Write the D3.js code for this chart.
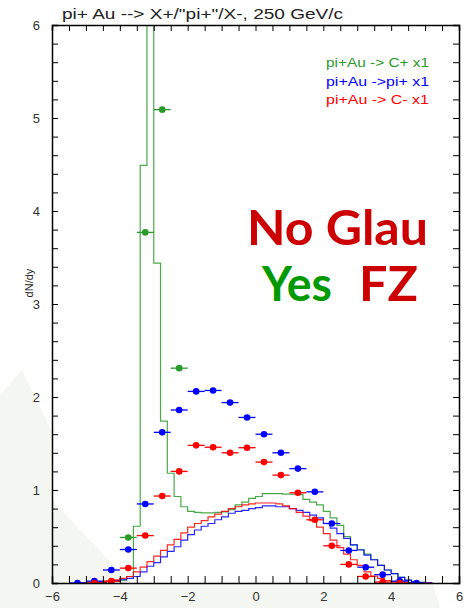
<!DOCTYPE html>
<html>
<head>
<meta charset="utf-8">
<script src="https://cdn.jsdelivr.net/npm/d3@7"></script>
<style>
  body { margin: 0; background: #fff; }
  svg { display: block; }
  .axis text { font-family: "Liberation Sans", Arial, sans-serif; font-size: 13px; fill: #333; }
  .axis path, .axis line { stroke: #000; }
</style>
</head>
<body>
<div id="vis"></div>
<script>
// ---- data ----
// histogram bins are 0.2 wide, first bin starts at -5.2
var binStart = -5.2, binWidth = 0.2;
var histCplus = [0, 0, 0.005, 0.01, 0.015, 0.02, 0.03, 0.07, 0.61, 4.49, 7.5, 3.44, 1.74, 1.18, 0.93, 0.82,
    0.77, 0.76, 0.755, 0.755, 0.76, 0.765, 0.79, 0.84, 0.87, 0.91, 0.93, 0.96, 0.96, 0.96, 0.955, 0.955,
    0.95, 0.90, 0.87, 0.84, 0.77, 0.70, 0.62, 0.50, 0.41, 0.36, 0.31, 0.25, 0.19, 0.14, 0.10, 0.06,
    0.03, 0.015, 0.005, 0];
var histPi = [0, 0, 0.005, 0.01, 0.015, 0.025, 0.035, 0.05, 0.07, 0.12, 0.18, 0.22, 0.28, 0.34, 0.39, 0.46,
    0.52, 0.57, 0.61, 0.64, 0.68, 0.71, 0.75, 0.77, 0.78, 0.80, 0.81, 0.83, 0.83, 0.82, 0.82, 0.80,
    0.78, 0.76, 0.73, 0.70, 0.64, 0.59, 0.53, 0.48, 0.41, 0.355, 0.30, 0.25, 0.19, 0.14, 0.10, 0.06,
    0.03, 0.015, 0.008, 0.004];
var histCminus = [0, 0, 0.005, 0.01, 0.02, 0.035, 0.05, 0.07, 0.12, 0.17, 0.23, 0.29, 0.35, 0.41, 0.47, 0.54,
    0.60, 0.64, 0.67, 0.71, 0.74, 0.77, 0.80, 0.82, 0.84, 0.85, 0.86, 0.86, 0.86, 0.85, 0.83, 0.80,
    0.76, 0.72, 0.67, 0.60, 0.53, 0.46, 0.38, 0.31, 0.25, 0.19, 0.12, 0.075, 0.05, 0.025, 0.015, 0.01,
    0.005, 0, 0, 0];

// measured points (centre of 0.5 wide bins)
var ptsCplusX = [-3.75, -3.25, -2.75, -2.25];
var ptsCplusY = [0.49, 3.77, 5.09, 2.31];
var ptsPiX = [-5.25, -4.75, -4.25, -3.75, -3.25, -2.75, -2.25, -1.75, -1.25, -0.75, -0.25,
    0.25, 0.75, 1.25, 1.75, 2.25, 2.75, 3.25, 3.75, 4.25, 4.75];
var ptsPiY = [0.0, 0.02, 0.14, 0.36, 0.85, 1.62, 1.86, 2.06, 2.07, 1.94, 1.78,
    1.60, 1.40, 1.23, 0.98, 0.64, 0.35, 0.17, 0.09, 0.02, 0.0];
var ptsCminusX = [-4.75, -4.25, -3.75, -3.25, -2.75, -2.25, -1.75, -1.25, -0.75, -0.25,
    0.25, 0.75, 1.25, 1.75, 2.25, 2.75, 3.25, 3.75, 4.25];
var ptsCminusY = [0.0, 0.02, 0.16, 0.51, 0.935, 1.20, 1.48, 1.46, 1.40, 1.455,
    1.30, 1.16, 0.97, 0.68, 0.40, 0.20, 0.07, 0.01, 0.0];
var xErr = 0.25;

var legendLabels = ["pi+Au -> C+ x1", "pi+Au ->pi+ x1", "pi+Au -> C- x1"];
var xTickLabels = [-6, -4, -2, 0, 2, 4, 6];
var yTickLabels = [0, 1, 2, 3, 4, 5, 6];

var green = "#2a9a2a", blue = "#0000ff", red = "#ff0000";

// ---- chart ----
var W = 468, H = 608;
var margin = { top: 25, right: 9, bottom: 25, left: 52 };

var svg = d3.select("#vis").append("svg")
    .attr("width", W)
    .attr("height", H);

// faint watermark in the background of the original picture
var wm = svg.append("g").attr("fill", "#f4f6f1");
wm.append("path").attr("d", "M0,395 L22,370 L70,470 L120,540 L300,570 L430,575 L440,608 L0,608 Z");

var x = d3.scaleLinear().domain([-6, 6]).range([margin.left, W - margin.right]);
var y = d3.scaleLinear().domain([0, 6]).range([H - margin.bottom, margin.top]);

svg.append("clipPath").attr("id", "plotclip")
    .append("rect")
    .attr("x", x(-6)).attr("y", y(6))
    .attr("width", x(6) - x(-6)).attr("height", y(0) - y(6));

// plot area: white except the watermark corner
svg.append("path")
    .attr("d", "M" + x(-6) + "," + y(6) + " H" + x(6) + " V" + y(0) + " H130 L" + x(-6) + ",500 Z")
    .attr("fill", "#fff");

var plot = svg.append("g").attr("clip-path", "url(#plotclip)");

function histPoints(vals) {
    var pts = [[binStart, 0]];
    vals.forEach(function (v, i) {
        var lo = binStart + i * binWidth;
        pts.push([lo, v]);
        pts.push([lo + binWidth, v]);
    });
    pts.push([binStart + vals.length * binWidth, 0]);
    return pts;
}

var line = d3.line()
    .x(function (d) { return x(d[0]); })
    .y(function (d) { return y(d[1]); });

[[histCplus, green], [histPi, blue], [histCminus, red]].forEach(function (h) {
    plot.append("path")
        .attr("d", line(histPoints(h[0])))
        .attr("fill", "none")
        .attr("stroke", h[1])
        .attr("stroke-width", 1.2)
        .attr("stroke-opacity", 0.85);
});

function drawPoints(xs, ys, col) {
    var g = plot.append("g");
    xs.forEach(function (xv, i) {
        g.append("line")
            .attr("x1", x(xv - xErr)).attr("x2", x(xv + xErr))
            .attr("y1", y(ys[i])).attr("y2", y(ys[i]))
            .attr("stroke", col).attr("stroke-width", 1.3);
        g.append("circle")
            .attr("cx", x(xv)).attr("cy", y(ys[i]))
            .attr("r", 3.3)
            .attr("fill", col);
    });
}
drawPoints(ptsCplusX, ptsCplusY, green);
drawPoints(ptsPiX, ptsPiY, blue);
drawPoints(ptsCminusX, ptsCminusY, red);

// axes: inward ticks like the original
var minorX = d3.range(-6, 6.01, 0.5);
var minorY = d3.range(0, 6.01, 0.2);

svg.append("g").attr("class", "axis")
    .attr("transform", "translate(0," + y(0) + ")")
    .call(d3.axisBottom(x).tickValues(minorX).tickSize(-7).tickFormat(""));
svg.append("g").attr("class", "axis")
    .attr("transform", "translate(0," + y(0) + ")")
    .call(d3.axisBottom(x).tickValues(xTickLabels).tickSize(0).tickPadding(9).tickFormat(d3.format("d")))
    .select(".domain").remove();

svg.append("g").attr("class", "axis")
    .attr("transform", "translate(0," + y(6) + ")")
    .call(d3.axisTop(x).tickValues(minorX).tickSize(-6).tickFormat(""));

svg.append("g").attr("class", "axis")
    .attr("transform", "translate(" + x(-6) + ",0)")
    .call(d3.axisLeft(y).tickValues(minorY).tickSize(-6).tickFormat(""));
svg.append("g").attr("class", "axis")
    .attr("transform", "translate(" + x(-6) + ",0)")
    .call(d3.axisLeft(y).tickValues(yTickLabels).tickSize(0).tickPadding(12).tickFormat(d3.format("d")))
    .select(".domain").remove();

svg.append("g").attr("class", "axis")
    .attr("transform", "translate(" + x(6) + ",0)")
    .call(d3.axisRight(y).tickValues(minorY).tickSize(-6).tickFormat(""));

svg.selectAll(".axis .domain").attr("stroke-width", 1.5);

// title
svg.append("text")
    .attr("x", 62).attr("y", 19)
    .attr("textLength", 281).attr("lengthAdjust", "spacingAndGlyphs")
    .style("font-family", "Liberation Sans, Arial, sans-serif")
    .style("font-size", "14px")
    .attr("fill", "#222")
    .text("pi+ Au --> X+/\"pi+\"/X-, 250 GeV/c");

// y axis title
svg.append("text")
    .attr("transform", "translate(33,283) rotate(-90)")
    .attr("text-anchor", "middle")
    .style("font-family", "Liberation Sans, Arial, sans-serif")
    .style("font-size", "11px")
    .attr("fill", "#222")
    .text("dN/dy");

// legend
var legendColors = [green, blue, red];
legendLabels.forEach(function (t, i) {
    svg.append("text")
        .attr("x", 326).attr("y", 67 + i * 18.7)
        .attr("textLength", 103).attr("lengthAdjust", "spacingAndGlyphs")
        .style("font-family", "Liberation Sans, Arial, sans-serif")
        .style("font-size", "12px")
        .attr("fill", legendColors[i])
        .text(t);
});

// big annotation
function bigText(tx, xx, yy, len, col) {
    svg.append("text")
        .attr("x", xx).attr("y", yy)
        .attr("textLength", len).attr("lengthAdjust", "spacingAndGlyphs")
        .attr("fill", col)
        .style("font-family", "Lato, DejaVu Sans, Arial, sans-serif")
        .style("font-weight", "bold")
        .style("font-size", "48px")
        .text(tx);
}
bigText("No Glau", 247, 245, 181, "#cc0000");
bigText("Yes", 262, 301, 70, "#009900");
bigText("FZ", 359, 301, 59, "#cc0000");
</script>
</body>
</html>
